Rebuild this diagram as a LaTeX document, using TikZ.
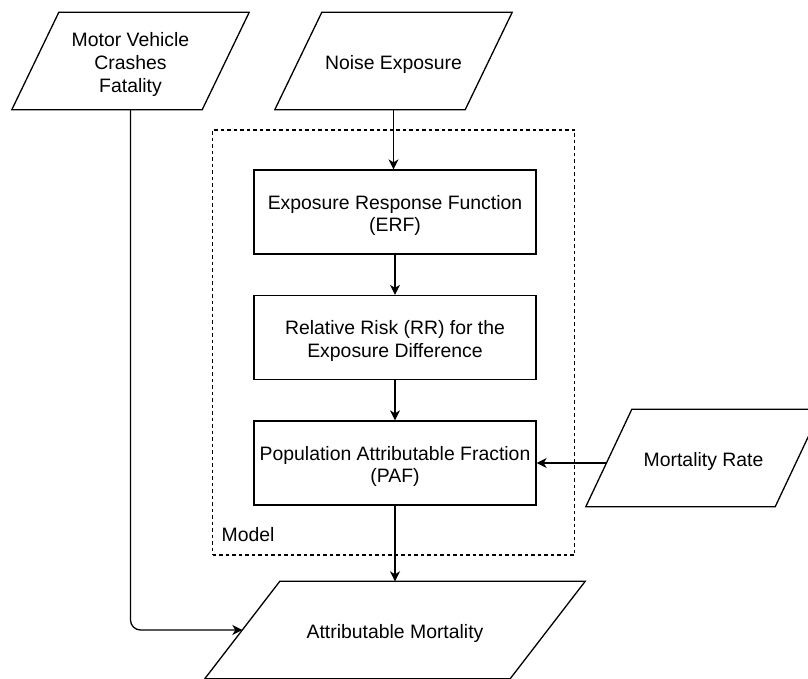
\documentclass[tikz,border=0pt]{standalone}
\usepackage{fontspec}
\setmainfont{Liberation Sans}
\usetikzlibrary{arrows.meta,calc}
\begin{document}
\begin{tikzpicture}[x=1pt,y=-1pt,
  every node/.style={font=\fontsize{19.4}{22.8}\selectfont, align=center},
  box/.style={draw, line width=1.3pt, minimum width=282pt, minimum height=84pt, inner sep=0pt},
  para/.style={draw=none, minimum height=97pt, inner sep=0pt},
  lbl/.style={inner sep=0pt},
  arrow/.style={line width=1.3pt, -{Stealth[length=10pt,width=10pt,inset=3pt]}},
  shapeline/.style={line width=1.3pt},
  modelbox/.style={draw, line width=1.1pt, dash pattern=on 3.5pt off 3pt}]
\useasboundingbox (0,0) rectangle (808,679);
\newcommand{\paradraw}[2]{%
  \draw[shapeline] ($(#1.north west)+(#2/2,0)$) -- ($(#1.north east)+(#2/2,0)$)
    -- ($(#1.south east)+(-#2/2,0)$) -- ($(#1.south west)+(-#2/2,0)$) -- cycle;}
% dashed model frame
\node[modelbox, minimum width=362pt, minimum height=425pt, inner sep=0pt] (model) at (393.5,342.5) {};
\node[anchor=west, inner sep=0pt] (modellabel) at (221.5,535) {Model};
% inputs
\node[para, minimum width=190pt] (motor) at (130.5,61) {};
\paradraw{motor}{47}
\node[lbl] (motort) at ([yshift=-3.5pt]motor.center) {Motor Vehicle\\Crashes\\Fatality};
\node[para, minimum width=190pt] (noise) at (393.5,61) {};
\paradraw{noise}{47}
\node[lbl] (noiset) at ([yshift=-3.5pt]noise.center) {Noise Exposure};
\node[para, minimum width=189pt] (mort) at (703.5,458) {};
\paradraw{mort}{46}
\node[lbl] (mortt) at ([yshift=-3.5pt]mort.center) {Mortality Rate};
\node[para, minimum width=305pt] (attr) at (395,630) {};
\paradraw{attr}{75}
\node[lbl] (attrt) at ([yshift=-3.5pt]attr.center) {Attributable Mortality};
% model boxes
\node[box] (erf) at (395,212) {};
\node[lbl] (erft) at ([yshift=-3.5pt]erf.center) {Exposure Response Function\\(ERF)};
\node[box] (rr) at (395,337.5) {};
\node[lbl] (rrt) at ([yshift=-3.5pt]rr.center) {Relative Risk (RR) for the\\Exposure Difference};
\node[box] (paf) at (395,463) {};
\node[lbl] (paft) at ([yshift=-3.5pt]paf.center) {Population Attributable Fraction\\(PAF)};
% connectors
\draw[arrow] (noise.south) -- (noise.south |- erf.north);
\draw[arrow] (erf) -- (rr);
\draw[arrow] (rr) -- (paf);
\draw[arrow] ([xshift=-2.4pt]mort.west |- paf.east) -- (paf.east);
\draw[arrow] (paf) -- (paf.south |- attr.north);
\draw[arrow, rounded corners=10pt] (motor.south) |- (attr.west);
\end{tikzpicture}
\end{document}
